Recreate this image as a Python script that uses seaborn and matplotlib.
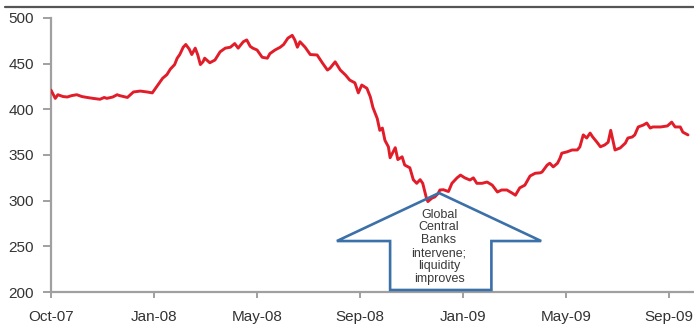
import pandas as pd
import matplotlib
matplotlib.use("Agg")
import matplotlib.pyplot as plt
import matplotlib.dates as mdates
from matplotlib.patches import Polygon
import seaborn as sns

# Daily spread series (basis points), stored as day offsets from the first observation
start_date = "2007-10-01"
day_offset = [
    0, 5, 8, 14, 19, 24, 30, 36, 42, 49, 57, 62, 65, 72, 77, 80, 89, 96, 104, 112,
    118, 124, 130, 135, 139, 144, 147, 150, 154, 157, 161, 164, 168, 171, 174, 177,
    179, 185, 191, 197, 203, 209, 214, 218, 224, 228, 232, 235, 240, 246, 252, 255,
    261, 267, 271, 276, 281, 284, 287, 290, 296, 302, 310, 316, 322, 325, 331, 337,
    343, 348, 354, 358, 362, 368, 372, 375, 380, 383, 386, 389, 393, 395, 401, 404,
    409, 412, 416, 418, 422, 426, 430, 433, 437, 439, 444, 447, 451, 453, 457, 463,
    467, 473, 477, 482, 488, 492, 496, 502, 508, 514, 520, 525, 531, 537, 541, 546,
    552, 558, 564, 570, 572, 578, 581, 585, 590, 593, 595, 601, 607, 613, 616, 620,
    624, 628, 631, 636, 640, 645, 649, 652, 655, 657, 663, 669, 672, 677, 680, 684,
    690, 694, 698, 701, 710, 718, 723, 727, 733, 736, 742,
]
spread_bp = [
    421, 412, 416, 414, 413.5, 415, 416, 414, 413, 412, 411, 413, 412, 413.5, 416, 415, 413, 419, 420, 419,
    418, 426, 434, 438, 444, 449, 456, 460, 468, 471, 466, 460, 467, 459.5, 449, 452,
    456, 451, 454, 463, 467, 468, 472, 467, 474, 476, 469, 467, 465, 457, 456, 461,
    465, 468, 471, 478, 481, 476, 468, 474, 468, 460, 459.5, 451, 443, 445, 452, 443,
    437.6, 432, 429, 418, 426.6, 423, 413.5, 402, 390, 377, 379.5, 366, 359, 347, 358, 345,
    348, 339, 337, 336, 323, 319, 323, 319, 304, 299, 303, 304, 308, 311.7, 312, 310,
    319, 325, 328, 325, 322.6, 325, 319, 319, 320.4, 317, 309.5, 311.7, 311.7, 308.4, 306, 314,
    317, 327, 330, 330.5, 331.4, 339, 341, 337, 341, 346.7, 352, 353.4, 355.5, 355.5, 358.8, 372,
    368.6, 374, 369.7, 364, 359, 361, 364, 377, 364, 355.5, 357.7, 363, 368.6, 369.7, 372, 380.7,
    382.8, 385, 379.5, 380.7, 380.7, 381.8, 386, 380.7, 380.7, 375, 372,
]

tick_labels = ["Oct-07", "Jan-08", "May-08", "Sep-08", "Jan-09", "May-09", "Sep-09"]
tick_step_days = 120
y_ticks = [200, 250, 300, 350, 400, 450, 500]
note_text = "Global\nCentral\nBanks\nintervene;\nliquidity\nimproves"

t0 = pd.Timestamp(start_date)
df = pd.DataFrame({
    "date": t0 + pd.to_timedelta(day_offset, unit="D"),
    "spread": spread_bp,
})


def day_num(d):
    return mdates.date2num(t0 + pd.Timedelta(days=d))


sns.set_style("white")
plt.rcParams["font.family"] = ["Liberation Sans", "DejaVu Sans"]

fig = plt.figure(figsize=(6.94, 3.25), dpi=100)
ax = fig.add_axes([51 / 694, 1 - 292 / 325, 1 - 51 / 694, (292 - 18) / 325])

sns.lineplot(data=df, x="date", y="spread", ax=ax, color="#e11d2a",
             linewidth=2.1, zorder=3)

# Upward block arrow with the annotation
verts = [
    (day_num(333), 255.8), (day_num(452), 308.4), (day_num(571), 255.8),
    (day_num(513), 255.8), (day_num(513), 202.2), (day_num(395), 202.2),
    (day_num(395), 255.8),
]
ax.add_patch(Polygon(verts, closed=True, fill=False, edgecolor="#3c70a8",
                     linewidth=1.9, joinstyle="miter", zorder=4))
ax.text(day_num(452), 249.5, note_text, ha="center", va="center",
        fontsize=9, linespacing=1.1, color="#3a3a3a", zorder=5)

ax.set_ylim(200, 500)
ax.set_xlim(day_num(0), day_num(749))
ax.set_yticks(y_ticks)
ax.set_xticks([day_num(i * tick_step_days) for i in range(len(tick_labels))])
ax.set_xticklabels(tick_labels)
ax.set_xlabel("")
ax.set_ylabel("")

for side in ("top", "right"):
    ax.spines[side].set_visible(False)
for side in ("left", "bottom"):
    ax.spines[side].set_color("#a0a0a0")
    ax.spines[side].set_linewidth(1.6)

ax.tick_params(axis="y", which="major", direction="out", length=5.5, width=1.4,
               color="#a0a0a0", labelsize=11, labelcolor="#333333", pad=7, left=True)
ax.tick_params(axis="x", which="major", direction="out", length=4, width=1.4,
               color="#a0a0a0", labelsize=11, labelcolor="#333333", pad=9, bottom=True)

# Rule across the top of the figure
fig.add_artist(plt.Line2D([0.007, 1.0], [1 - 6.5 / 325, 1 - 6.5 / 325],
                          color="#555555", linewidth=1.6))

fig.savefig("out.png", dpi=100)
